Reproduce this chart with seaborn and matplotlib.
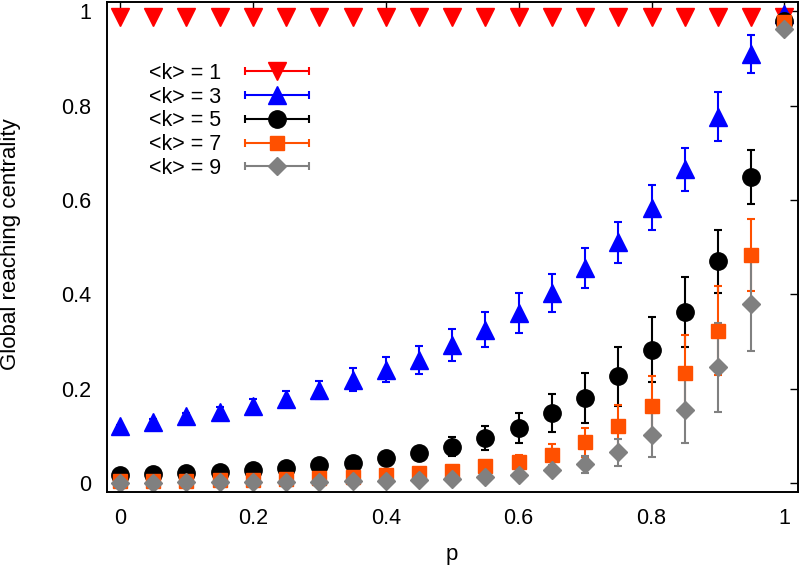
import seaborn as sns
import matplotlib.pyplot as plt
from matplotlib.container import ErrorbarContainer
from matplotlib.legend_handler import HandlerErrorbar

# values
p = [0.0, 0.05, 0.1, 0.15, 0.2, 0.25, 0.3, 0.35, 0.4, 0.45, 0.5,
     0.55, 0.6, 0.65, 0.7, 0.75, 0.8, 0.85, 0.9, 0.95, 1.0]

k1 = [0.988, 0.988, 0.988, 0.988, 0.988, 0.988, 0.988, 0.988, 0.988, 0.988, 0.988,
      0.988, 0.988, 0.988, 0.988, 0.988, 0.988, 0.988, 0.988, 0.988, 0.988]
k1_err = [0.0, 0.0, 0.0, 0.0, 0.0, 0.0, 0.0, 0.0, 0.0, 0.0, 0.0,
          0.0, 0.0, 0.0, 0.0, 0.0, 0.0, 0.0, 0.0, 0.0, 0.0]

k3 = [0.120, 0.130, 0.141, 0.151, 0.163, 0.178, 0.197, 0.219, 0.240, 0.261, 0.293,
      0.325, 0.360, 0.403, 0.456, 0.510, 0.584, 0.665, 0.777, 0.909, 0.995]
k3_err = [0.003, 0.005, 0.008, 0.010, 0.015, 0.017, 0.020, 0.025, 0.027, 0.030, 0.034,
          0.037, 0.043, 0.041, 0.043, 0.043, 0.048, 0.045, 0.052, 0.040, 0.0]

k5 = [0.017, 0.019, 0.022, 0.024, 0.028, 0.031, 0.037, 0.043, 0.052, 0.063, 0.077,
      0.095, 0.116, 0.148, 0.180, 0.226, 0.282, 0.362, 0.470, 0.648, 0.980]
k5_err = [0.002, 0.002, 0.003, 0.003, 0.004, 0.005, 0.006, 0.008, 0.010, 0.013, 0.020,
          0.025, 0.032, 0.041, 0.053, 0.062, 0.069, 0.074, 0.067, 0.057, 0.0]

k7 = [0.004, 0.005, 0.005, 0.006, 0.007, 0.009, 0.011, 0.013, 0.017, 0.020, 0.026,
      0.035, 0.045, 0.059, 0.086, 0.120, 0.162, 0.233, 0.323, 0.484, 0.978]
k7_err = [0.001, 0.001, 0.001, 0.002, 0.002, 0.003, 0.004, 0.005, 0.006, 0.008, 0.010,
          0.012, 0.015, 0.024, 0.031, 0.046, 0.064, 0.081, 0.094, 0.076, 0.0]

k9 = [0.000, 0.000, 0.001, 0.001, 0.001, 0.002, 0.002, 0.003, 0.004, 0.006, 0.009,
      0.012, 0.017, 0.028, 0.040, 0.065, 0.102, 0.154, 0.245, 0.380, 0.962]
k9_err = [0.000, 0.000, 0.001, 0.001, 0.001, 0.001, 0.002, 0.002, 0.003, 0.004, 0.005,
          0.007, 0.009, 0.010, 0.018, 0.029, 0.047, 0.069, 0.095, 0.100, 0.0]

labels = ['<k> = 1', '<k> = 3', '<k> = 5', '<k> = 7', '<k> = 9']
colors = ['#ff0000', '#0000ff', '#000000', '#ff5000', '#808080']
markers = ['v', '^', 'o', 's', 'D']
sizes = [13, 13, 12.5, 10.5, 9.2]
ticks = [0, 0.2, 0.4, 0.6, 0.8, 1]
tick_labels = ['0', '0.2', '0.4', '0.6', '0.8', '1']

sns.set_theme(style='white')
plt.rcParams['font.family'] = ['Liberation Sans', 'DejaVu Sans']
plt.rcParams['text.color'] = 'black'
plt.rcParams['axes.labelcolor'] = 'black'
plt.rcParams['xtick.color'] = 'black'
plt.rcParams['ytick.color'] = 'black'

fig = plt.figure(figsize=(8, 5.66), dpi=100)
ax = fig.add_axes([0.1334, 0.1302, 0.8638, 0.8663])

series = [(k1, k1_err), (k3, k3_err), (k5, k5_err), (k7, k7_err), (k9, k9_err)]
handles = []
for (vals, errs), lab, c, m, s in zip(series, labels, colors, markers, sizes):
    cont = ax.errorbar(p, vals, yerr=errs, fmt=m, color=c, ms=s, mec=c,
                       elinewidth=1.5, capsize=3, capthick=1.5, label=lab)
    # legend sample drawn gnuplot-style: horizontal bar with caps
    handles.append(ErrorbarContainer(cont.lines, has_xerr=True, has_yerr=False, label=lab))

ax.set_xlim(-0.02, 1.02)
ax.set_ylim(-0.02, 1.02)
ax.set_xticks(ticks)
ax.set_xticklabels(tick_labels)
ax.set_yticks(ticks)
ax.set_yticklabels(tick_labels)
ax.tick_params(axis='both', direction='in', length=6, width=1, colors='black',
               top=True, right=True, labelsize=15.5)
ax.tick_params(axis='x', pad=11)
ax.tick_params(axis='y', pad=11)
for sp in ax.spines.values():
    sp.set_linewidth(1.4)
    sp.set_color('black')

ax.set_xlabel('p', fontsize=16)
ax.set_ylabel('Global reaching centrality', fontsize=16)
ax.xaxis.set_label_coords(0.5, -0.106)
ax.yaxis.set_label_coords(-0.124, 0.507)

ax.legend(handles=handles, labels=labels, loc='upper left',
          bbox_to_anchor=(0.045, 0.898), frameon=False, markerfirst=False,
          borderpad=0, labelspacing=0.13, handlelength=3.0, handletextpad=1.1,
          fontsize=15.5, numpoints=1,
          handler_map={ErrorbarContainer: HandlerErrorbar(xerr_size=1.5)})

fig.savefig('out.png', dpi=100)
